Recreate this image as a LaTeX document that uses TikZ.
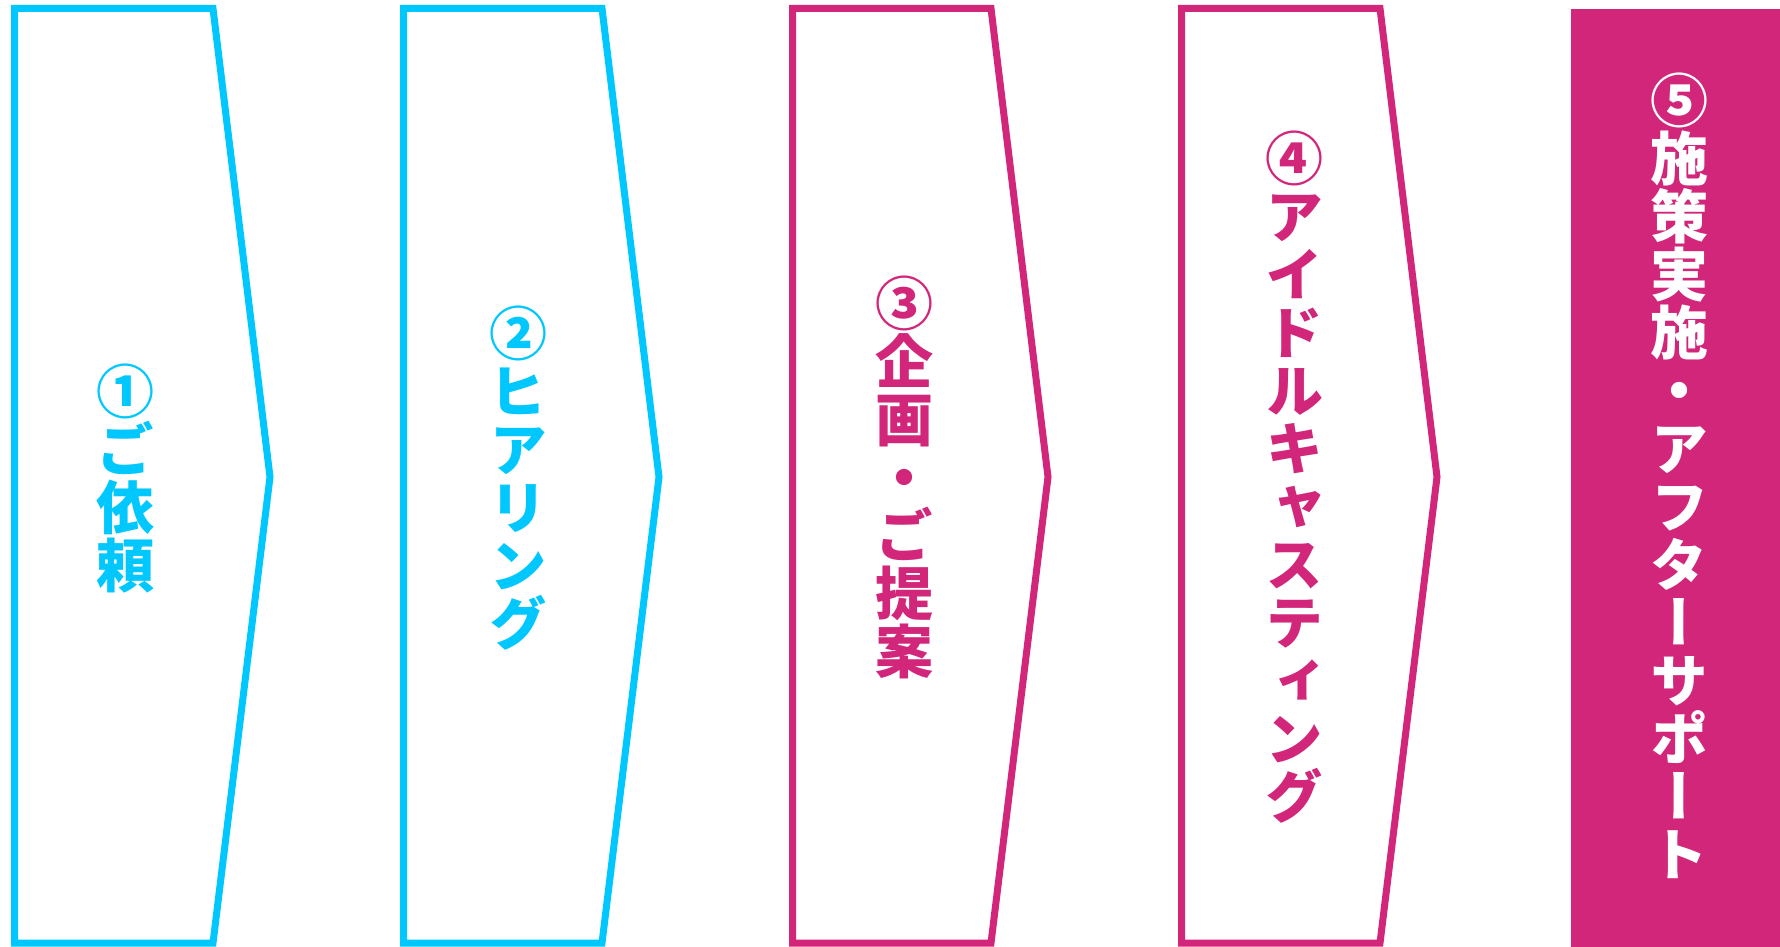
\documentclass[tikz,border=0pt]{standalone}
\usepackage{fontspec}
\newfontfamily\jpvert[RawFeature={+vert}]{Noto Sans CJK JP}
\definecolor{stepcyan}{RGB}{0,200,255}
\definecolor{steppink}{RGB}{210,38,122}

\begin{document}
\begin{tikzpicture}[x=1pt,y=-1pt]

    \tikzset{chevron/.style = {line width=7pt,miter limit=10}}
    \tikzset{tate/.style = {align=center,inner sep=0pt,
        font=\jpvert\bfseries\fontsize{58}{58}\selectfont}}
    \useasboundingbox (0,0) rectangle (1780,947);

    \foreach \x/\c in {0/stepcyan,389/stepcyan,778/steppink,1167/steppink}
        \draw[chevron,draw=\c] (\x+14.5,8.5) -- (\x+213,8.5) -- (\x+270,477)
            -- (\x+213,943) -- (\x+14.5,943) -- cycle;
    \fill[steppink] (1571,9) rectangle (1780,947);

    \node[tate,text=stepcyan] (irai) at (125,479) {①\\ご\\依\\頼};
    \node[tate,text=stepcyan] (hearing) at (518,478) {②\\ヒ\\ア\\リ\\ン\\グ};
    \node[tate,text=steppink] (kikaku) at (904,477) {③\\企\\画\\・\\ご\\提\\案};
    \node[tate,text=steppink] (casting) at (1294,477) {④\\ア\\イ\\ド\\ル\\キ\\ャ\\ス\\テ\\ィ\\ン\\グ};
    \node[tate,text=white] (jisshi) at (1679,476) {⑤\\施\\策\\実\\施\\・\\ア\\フ\\タ\\ー\\サ\\ポ\\ー\\ト};

\end{tikzpicture}
\end{document}
